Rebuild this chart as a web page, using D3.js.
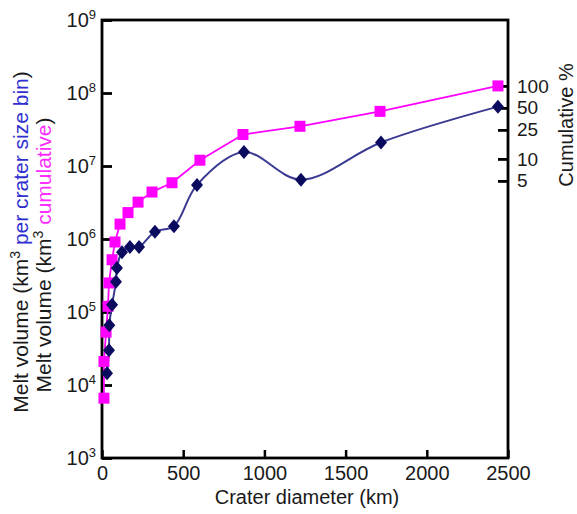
<!DOCTYPE html>
<html>
<head>
<meta charset="utf-8">
<script src="https://cdn.jsdelivr.net/npm/d3@7"></script>
<style>
body{margin:0;background:#fff;}
text{font-family:"Liberation Sans",Arial,sans-serif;fill:#1a1a1a;}
</style>
</head>
<body>
<div class="canvas"></div>
<script>
// values
var binDiam = [31,43,45,62,86,92,123,172,228,326,443,585,874,1225,1718,2438];
var binVol  = [1.45e4,3.0e4,6.6e4,1.26e5,2.6e5,4.0e5,6.6e5,7.8e5,7.8e5,1.26e6,1.5e6,5.5e6,1.55e7,6.5e6,2.1e7,6.5e7];

var cumDiam = [12,12,25,37,43,62,80,111,160,222,308,431,603,868,1219,1712,2438];
var cumVol  = [6.6e3,2.1e4,5.3e4,1.2e5,2.5e5,5.2e5,9.1e5,1.6e6,2.3e6,3.2e6,4.4e6,5.9e6,1.2e7,2.7e7,3.5e7,5.6e7,1.25e8];

var xTicks = [0,500,1000,1500,2000,2500];
var yExp = [3,4,5,6,7,8,9];
var pctTicks = [100,50,25,10,5];

var W = 577, H = 514;
var margin = {t:20,r:69,b:56,l:102};
var width = W - margin.l - margin.r,
    height = H - margin.t - margin.b;

var svg = d3.select('.canvas').append('svg')
    .attr('width',W)
    .attr('height',H);

var plot = svg.append('g')
    .attr('transform','translate('+margin.l+','+margin.t+')');

var x = d3.scaleLinear().domain([0,2500]).range([0,width]);
var y = d3.scaleLog().domain([1e3,1e9]).range([height,0]);
// right axis: % of final cumulative volume
var total = cumVol[cumVol.length-1];
var yPct = d3.scaleLog().domain([1e3/total*100,1e9/total*100]).range([height,0]);

// frame
plot.append('rect')
    .attr('width',width).attr('height',height)
    .attr('fill','none').attr('stroke','#000').attr('stroke-width',2.8);

// x axis
var xAxis = plot.append('g').attr('transform','translate(0,'+height+')')
    .call(d3.axisBottom(x).tickValues(xTicks).tickSizeInner(-8).tickSizeOuter(0).tickPadding(8).tickFormat(d3.format('d')));
xAxis.select('.domain').remove();
xAxis.selectAll('line').attr('stroke','#000').attr('stroke-width',2.5);
xAxis.selectAll('text').style('font-size','20px').attr('fill','#1a1a1a');

// left axis
var yAxis = plot.append('g')
    .call(d3.axisLeft(y).tickValues(yExp.map(function(e){return Math.pow(10,e);})).tickSizeInner(-10).tickSizeOuter(0).tickFormat(''));
yAxis.select('.domain').remove();
yAxis.selectAll('line').attr('stroke','#000').attr('stroke-width',2.8);
var yl = plot.append('g').selectAll('text').data(yExp).enter().append('text')
    .attr('x',-6)
    .attr('y',function(d){return y(Math.pow(10,d))+7;})
    .attr('text-anchor','end')
    .style('font-size','20px');
yl.append('tspan').text('10');
yl.append('tspan').attr('dy',-8).style('font-size','13px').text(function(d){return d;});

// right axis
var rAxis = plot.append('g').attr('transform','translate('+width+',0)')
    .call(d3.axisRight(yPct).tickValues(pctTicks).tickSizeInner(-10).tickSizeOuter(0).tickPadding(9).tickFormat(d3.format('d')));
rAxis.select('.domain').remove();
rAxis.selectAll('line').attr('stroke','#000').attr('stroke-width',2.8);
rAxis.selectAll('text').style('font-size','19px').attr('fill','#1a1a1a');

// per-bin series
var binLine = d3.line()
    .x(function(d,i){return x(binDiam[i]);})
    .y(function(d){return y(d);})
    .curve(d3.curveCatmullRom.alpha(0.5));
plot.append('path').datum(binVol)
    .attr('d',binLine)
    .attr('fill','none').attr('stroke','#3a3a92').attr('stroke-width',2);

// cumulative series
var cumLine = d3.line()
    .x(function(d,i){return x(cumDiam[i]);})
    .y(function(d){return y(d);});
plot.append('path').datum(cumVol)
    .attr('d',cumLine)
    .attr('fill','none').attr('stroke','#ff00ff').attr('stroke-width',1.8);

plot.selectAll('.sq').data(cumVol).enter().append('rect')
    .attr('class','sq')
    .attr('x',function(d,i){return x(cumDiam[i])-5.5;})
    .attr('y',function(d){return y(d)-5.5;})
    .attr('width',11).attr('height',11)
    .attr('fill','#ff00ff');

plot.selectAll('.dia').data(binVol).enter().append('path')
    .attr('class','dia')
    .attr('transform',function(d,i){return 'translate('+x(binDiam[i])+','+y(d)+')';})
    .attr('d','M0,-7L6,0L0,7L-6,0Z')
    .attr('fill','#0a0a5e');

// axis titles
svg.append('text')
    .attr('x',margin.l+width/2+2).attr('y',504)
    .attr('text-anchor','middle')
    .style('font-size','20px')
    .text('Crater diameter (km)');

var t1 = svg.append('text')
    .attr('transform','translate(28,242) rotate(-90)')
    .attr('text-anchor','middle')
    .style('font-size','21px');
t1.append('tspan').text('Melt volume (km');
t1.append('tspan').attr('dy',-8).style('font-size','14px').text('3');
t1.append('tspan').attr('dy',8).attr('fill','#2f2fd0').text(' per crater size bin');
t1.append('tspan').text(')');

var t2 = svg.append('text')
    .attr('transform','translate(51,255) rotate(-90)')
    .attr('text-anchor','middle')
    .style('font-size','21px');
t2.append('tspan').text('Melt volume (km');
t2.append('tspan').attr('dy',-8).style('font-size','14px').text('3');
t2.append('tspan').attr('dy',8).attr('fill','#ff2cff').text(' cumulative');
t2.append('tspan').text(')');

svg.append('text')
    .attr('transform','translate(573,125) rotate(-90)')
    .attr('text-anchor','middle')
    .style('font-size','20px')
    .text('Cumulative %');
</script>
</body>
</html>
